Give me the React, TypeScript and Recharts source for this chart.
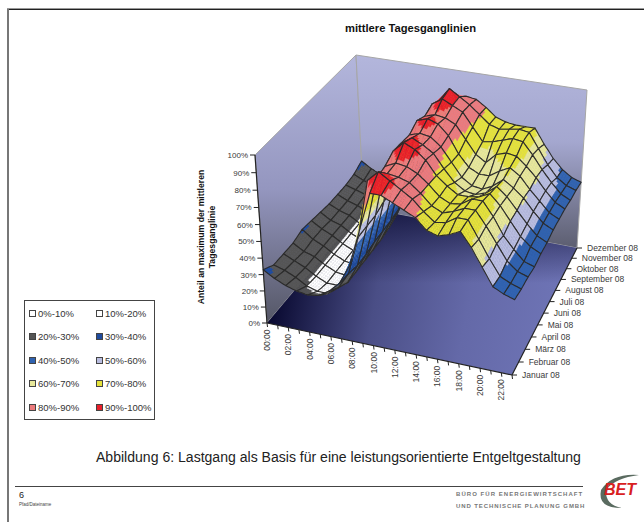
import React from 'react'
import { ScatterChart, Scatter, XAxis, YAxis } from 'recharts'

const W = 644
const H = 522

const hours = ['00:00','01:00','02:00','03:00','04:00','05:00','06:00','07:00','08:00','09:00','10:00','11:00','12:00','13:00','14:00','15:00','16:00','17:00','18:00','19:00','20:00','21:00','22:00','23:00']
const months = ['Januar 08','Februar 08','März 08','April 08','Mai 08','Juni 08','Juli 08','August 08','September 08','Oktober 08','November 08','Dezember 08']
const valueTicks = [0, 10, 20, 30, 40, 50, 60, 70, 80, 90, 100]

// share of daily max, one row per month, one column per hour
const jan = [33,29,26,24,23,24,28,34,46,68,90,90,87,84,81,75,73,75,78,70,60,50,47,45]
const feb = [29,27,24,20,18,18,23,33,56,90,96,92,88,84,78,73,74,78,78,68,58,49,46,44]
const mar = [29,26,23,19,16,16,19,31,56,85,89,88,86,81,75,72,74,77,77,69,60,51,46,44]
const apr = [29,25,23,19,16,15,19,31,56,86,89,88,85,80,74,71,72,76,76,68,58,51,45,43]
const mai = [31,26,23,19,16,15,19,32,58,89,95,92,87,79,74,70,70,71,74,68,60,52,47,44]
const jun = [30,26,23,19,16,15,19,32,58,88,92,89,85,77,70,66,65,67,72,67,60,53,47,44]
const jul = [29,25,23,19,16,15,19,32,58,87,89,88,83,75,67,63,62,65,70,66,61,54,48,45]
const aug = [28,25,23,19,17,16,20,33,60,90,92,90,84,74,67,64,64,68,71,67,60,54,48,45]
const sep = [28,25,23,20,18,18,22,36,62,87,89,88,85,77,69,65,71,73,72,67,61,54,48,45]
const okt = [28,26,24,21,20,21,26,40,66,89,93,90,87,79,71,72,74,76,75,68,60,53,47,44]
const nov = [29,26,24,22,21,22,27,38,62,86,94,90,86,81,76,74,75,76,75,66,57,50,46,44]
const dez = [32,28,25,23,22,24,28,37,52,70,83,85,84,80,75,73,72,72,72,63,55,49,45,43]
const surface = [jan, feb, mar, apr, mai, jun, jul, aug, sep, okt, nov, dez]

const bandLabels = ['0%-10%','10%-20%','20%-30%','30%-40%','40%-50%','50%-60%','60%-70%','70%-80%','80%-90%','90%-100%']
const bandColors = ['#ffffff','#ffffff','#555555','#1f4b9e','#2f62b0','#b9bde0','#e8e89a','#e5e23a','#ec7a7c','#e8202a']

// corners of the 3D box on the page
const FL = [267, 323], FR = [512, 375], BR = [577, 248], BL = [364, 208]
const FLt = [255, 155], FRt = [518, 202], BRt = [587, 90], BLt = [356, 55]

const warpV = (v: number) => v / (v + (1 - v) * 0.877)
const warpZ = (z: number) => z / (z + (1 - z) * 1.06)
const mix = (a: number[], b: number[], t: number) => [a[0] + (b[0] - a[0]) * t, a[1] + (b[1] - a[1]) * t]
const plane = (f: number[], r: number[], br: number[], bl: number[], u: number, v: number) => mix(mix(f, r, u), mix(bl, br, u), v)

// hour index, month index, percent -> page position
const project = (h: number, m: number, pct: number) => {
  const u = h / 23
  const v = warpV(m / 11)
  return mix(plane(FL, FR, BR, BL, u, v), plane(FLt, FRt, BRt, BLt, u, v), warpZ(pct / 100))
}

const SUB = 5
const bandOf = (pct: number) => Math.max(0, Math.min(9, Math.floor(pct / 10)))

// one scatter point per mesh cell, back to front
const cells: any[] = []
for (let m = 10; m >= 0; m--) {
  for (let h = 0; h < 23; h++) {
    const val = (i: number, j: number) => {
      const s = i / SUB, t = j / SUB
      const a = surface[m][h] + (surface[m][h + 1] - surface[m][h]) * s
      const b = surface[m + 1][h] + (surface[m + 1][h + 1] - surface[m + 1][h]) * s
      return a + (b - a) * t
    }
    const origin = project(h, m, surface[m][h])
    const pt = (i: number, j: number) => {
      const p = project(h + i / SUB, m + j / SUB, val(i, j))
      return `${(p[0] - origin[0]).toFixed(1)},${(p[1] - origin[1]).toFixed(1)}`
    }
    const subs: { points: string; fill: string }[] = []
    for (let i = 0; i < SUB; i++) {
      for (let j = 0; j < SUB; j++) {
        subs.push({
          points: [pt(i, j), pt(i + 1, j), pt(i + 1, j + 1), pt(i, j + 1)].join(' '),
          fill: bandColors[bandOf(val(i + 0.5, j + 0.5))],
        })
      }
    }
    const edge: string[] = []
    for (let i = 0; i < SUB; i++) edge.push(pt(i, 0))
    for (let j = 0; j < SUB; j++) edge.push(pt(SUB, j))
    for (let i = SUB; i > 0; i--) edge.push(pt(i, SUB))
    for (let j = SUB; j > 0; j--) edge.push(pt(0, j))
    cells.push({ x: origin[0], y: origin[1], subs, outline: edge.join(' ') })
  }
}

const CellShape = (props: any) => {
  const { cx, cy, payload } = props
  return (
    <g transform={`translate(${cx},${cy})`}>
      {payload.subs.map((s: any, i: number) => (
        <polygon key={i} points={s.points} fill={s.fill} stroke={s.fill} strokeWidth={0.4} />
      ))}
      <polygon points={payload.outline} fill="none" stroke="#2b2b2b" strokeWidth={1.1} strokeLinejoin="round" />
    </g>
  )
}

const poly = (pts: number[][], ox: number, oy: number) => pts.map((p) => `${p[0] - ox},${p[1] - oy}`).join(' ')

// walls and floor hang off one anchor point
const BoxShape = (props: any) => {
  const { cx, cy, payload } = props
  const ox = payload.x, oy = payload.y
  return (
    <g transform={`translate(${cx},${cy})`}>
      <defs>
        <linearGradient id="wall" x1="0" y1="0" x2="0" y2="1">
          <stop offset="0%" stopColor="#b3b6dc" />
          <stop offset="45%" stopColor="#a4a7cf" />
          <stop offset="100%" stopColor="#5c5e70" />
        </linearGradient>
        <linearGradient id="wallLeft" x1="0" y1="0" x2="0" y2="1">
          <stop offset="0%" stopColor="#b3b6dc" />
          <stop offset="50%" stopColor="#9496bf" />
          <stop offset="100%" stopColor="#555766" />
        </linearGradient>
        <linearGradient id="floorBase" x1="0" y1="0.5" x2="1" y2="0.6">
          <stop offset="0%" stopColor="#04042a" />
          <stop offset="35%" stopColor="#4a4e86" />
          <stop offset="65%" stopColor="#6469a8" />
          <stop offset="100%" stopColor="#7076b8" />
        </linearGradient>
        <linearGradient id="floorTop" x1="0" y1="0" x2="0" y2="1">
          <stop offset="0%" stopColor="#0f1038" stopOpacity={0.85} />
          <stop offset="45%" stopColor="#0f1038" stopOpacity={0} />
        </linearGradient>
      </defs>
      <polygon points={poly([FL, BL, BLt, FLt], ox, oy)} fill="url(#wallLeft)" stroke="#a6a6a6" strokeWidth={1} />
      <polygon points={poly([BL, BR, BRt, BLt], ox, oy)} fill="url(#wall)" stroke="#a6a6a6" strokeWidth={1} />
      <polygon points={poly([FL, FR, BR, BL], ox, oy)} fill="url(#floorBase)" />
      <polygon points={poly([FL, FR, BR, BL], ox, oy)} fill="url(#floorTop)" />
    </g>
  )
}

const axisColor = '#222222'
const labelColor = '#3a3a3a'
const font = '"Liberation Sans", Arial, sans-serif'

const ValueTick = (props: any) => {
  const { cx, cy, payload } = props
  return (
    <g>
      <line x1={cx - 5} y1={cy} x2={cx} y2={cy} stroke={axisColor} />
      <text x={cx - 7} y={cy + 3} textAnchor="end" fontSize={8} fontFamily={font} fill={labelColor}>{payload.label}</text>
    </g>
  )
}

const HourTick = (props: any) => {
  const { cx, cy, payload } = props
  const dy = 6.5
  return (
    <g>
      <line x1={cx} y1={cy} x2={cx + 0.5} y2={cy + 4} stroke={axisColor} />
      {payload.label ? (
        <text transform={`translate(${cx + 3},${cy + dy}) rotate(-90)`} textAnchor="end" fontSize={8.5} fontFamily={font} fill={labelColor}>{payload.label}</text>
      ) : null}
    </g>
  )
}

const MonthTick = (props: any) => {
  const { cx, cy, payload } = props
  return (
    <g>
      <line x1={cx} y1={cy} x2={cx + 5} y2={cy} stroke={axisColor} />
      <text x={cx + 10} y={cy + 3} fontSize={8.5} fontFamily={font} fill={labelColor}>{payload.label}</text>
    </g>
  )
}

const AxisLine = (props: any) => {
  const { cx, cy, payload } = props
  return <line x1={cx} y1={cy} x2={cx + payload.dx} y2={cy + payload.dy} stroke={axisColor} strokeWidth={1.2} />
}

const boxAnchor = [{ x: FL[0], y: FL[1] }]
const valuePoints = valueTicks.map((t) => {
  const p = project(0, 0, t)
  return { x: p[0], y: p[1], label: `${t}%` }
})
const hourPoints = hours.map((label, h) => {
  const p = project(h, 0, 0)
  return { x: p[0], y: p[1], label: h % 2 === 0 ? label : '' }
})
const monthPoints = months.map((label, m) => {
  const p = project(23, m, 0)
  return { x: p[0], y: p[1], label }
})
const axisLines = [
  { x: FL[0], y: FL[1], dx: FLt[0] - FL[0], dy: FLt[1] - FL[1] },
  { x: FL[0], y: FL[1], dx: FR[0] - FL[0], dy: FR[1] - FL[1] },
  { x: FR[0], y: FR[1], dx: BR[0] - FR[0], dy: BR[1] - FR[1] },
]

const Legend3D = () => (
  <div style={{ position: 'absolute', left: 24, top: 300, width: 131, height: 120, boxSizing: 'border-box', border: '1px solid #444', background: '#fff', fontFamily: font, fontSize: 9.5, color: '#333' }}>
    {bandLabels.map((label, i) => (
      <div key={label} style={{ position: 'absolute', left: i % 2 === 0 ? 4 : 71, top: 7 + Math.floor(i / 2) * 23.6, display: 'flex', alignItems: 'center', height: 10, whiteSpace: 'nowrap' }}>
        <span style={{ width: 5, height: 5, border: '1px solid #444', background: bandColors[i], marginRight: 2, display: 'inline-block' }} />
        {label}
      </div>
    ))}
  </div>
)

const Txt = ({ style, children }: any) => (
  <div style={{ position: 'absolute', fontFamily: font, whiteSpace: 'nowrap', lineHeight: 1, ...style }}>{children}</div>
)

const App = () => (
  <div style={{ position: 'absolute', left: 0, top: 0, width: W, height: H, overflow: 'hidden', background: '#fff' }}>
    <ScatterChart width={W} height={H} margin={{ top: 0, right: 0, bottom: 0, left: 0 }}>
      <XAxis type="number" dataKey="x" domain={[0, W]} hide allowDataOverflow />
      <YAxis type="number" dataKey="y" domain={[0, H]} reversed hide allowDataOverflow />
      <Scatter data={boxAnchor} shape={BoxShape} isAnimationActive={false} />
      <Scatter data={cells} shape={CellShape} isAnimationActive={false} />
      <Scatter data={axisLines} shape={AxisLine} isAnimationActive={false} />
      <Scatter data={valuePoints} shape={ValueTick} isAnimationActive={false} />
      <Scatter data={hourPoints} shape={HourTick} isAnimationActive={false} />
      <Scatter data={monthPoints} shape={MonthTick} isAnimationActive={false} />
    </ScatterChart>

    <div style={{ position: 'absolute', left: 7, top: 8, width: 2, height: H, background: '#777' }} />
    <div style={{ position: 'absolute', left: 7, top: 8, width: W, height: 1, background: '#999' }} />
    <div style={{ position: 'absolute', left: 9, top: 9, width: W, height: 1, background: '#222' }} />
    <Txt style={{ left: 345, top: 23, fontSize: 11.2, fontWeight: 'bold', color: '#111' }}>mittlere Tagesganglinien</Txt>
    <div style={{ position: 'absolute', left: 207, top: 237, width: 0, height: 0 }}>
      <div style={{ position: 'absolute', transform: 'translate(-50%,-50%) rotate(-90deg)', fontFamily: font, fontSize: 8.7, fontWeight: 'bold', color: '#111', whiteSpace: 'nowrap', textAlign: 'center', lineHeight: '11px' }}>
        Anteil an maximum der mittleren<br />Tagesganglinie
      </div>
    </div>
    <Legend3D />
    <Txt style={{ left: 96, top: 450, fontSize: 14.06, color: '#222' }}>Abbildung 6: Lastgang als Basis für eine leistungsorientierte Entgeltgestaltung</Txt>
    <div style={{ position: 'absolute', left: 15, top: 486, width: 568, height: 1, background: '#444' }} />
    <Txt style={{ left: 19, top: 491, fontSize: 9, color: '#222' }}>6</Txt>
    <Txt style={{ left: 19, top: 503, fontSize: 4.5, color: '#444' }}>Pfad/Dateiname</Txt>
    <Txt style={{ left: 456, top: 491, fontSize: 6, fontWeight: 'bold', color: '#777', letterSpacing: 1.05 }}>BÜRO FÜR ENERGIEWIRTSCHAFT</Txt>
    <Txt style={{ left: 456, top: 503, fontSize: 6, fontWeight: 'bold', color: '#777', letterSpacing: 0.9 }}>UND TECHNISCHE PLANUNG GMBH</Txt>
    <svg style={{ position: 'absolute', left: 0, top: 0 }} width={W} height={H}>
      <path d="M639,475 Q612,473 601,490 Q597,508 622,508 Q605,505 606,490 Q615,478 639,475 Z" fill="#5a6b60" />
    </svg>
    <Txt style={{ left: 604, top: 482, fontSize: 16, fontWeight: 'bold', fontStyle: 'italic', color: '#d8201f' }}>BET</Txt>
  </div>
)

export default App
